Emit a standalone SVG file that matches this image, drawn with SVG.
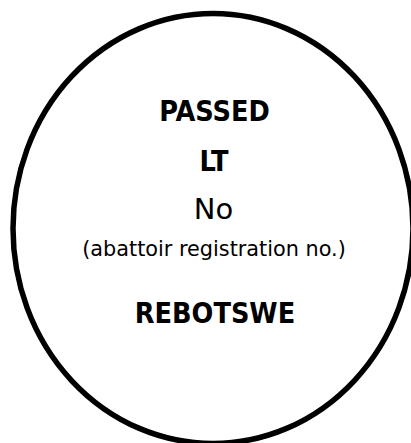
<svg xmlns="http://www.w3.org/2000/svg" width="411" height="443" viewBox="0 0 411 443">
<style>
.t{font-family:"DejaVu Sans","Liberation Sans",sans-serif;text-anchor:middle;fill:#000}
.b{font-family:"DejaVu Sans Condensed","DejaVu Sans",sans-serif;font-stretch:condensed;font-weight:bold;font-size:28.5px}
</style>
<rect width="411" height="443" fill="#fff"/>
<g id="stamp">
<ellipse cx="213" cy="228.5" rx="200" ry="215" fill="#fff" stroke="#000" stroke-width="5.5"/>
<text class="t b" x="214.5" y="121">PASSED</text>
<text class="t b" x="214" y="171">LT</text>
<text class="t" x="213.5" y="219" font-size="29">No</text>
<text class="t" x="214" y="256" font-size="20.8">(abattoir registration no.)</text>
<text class="t b" x="215" y="323">REBOTSWE</text>
</g>
</svg>
